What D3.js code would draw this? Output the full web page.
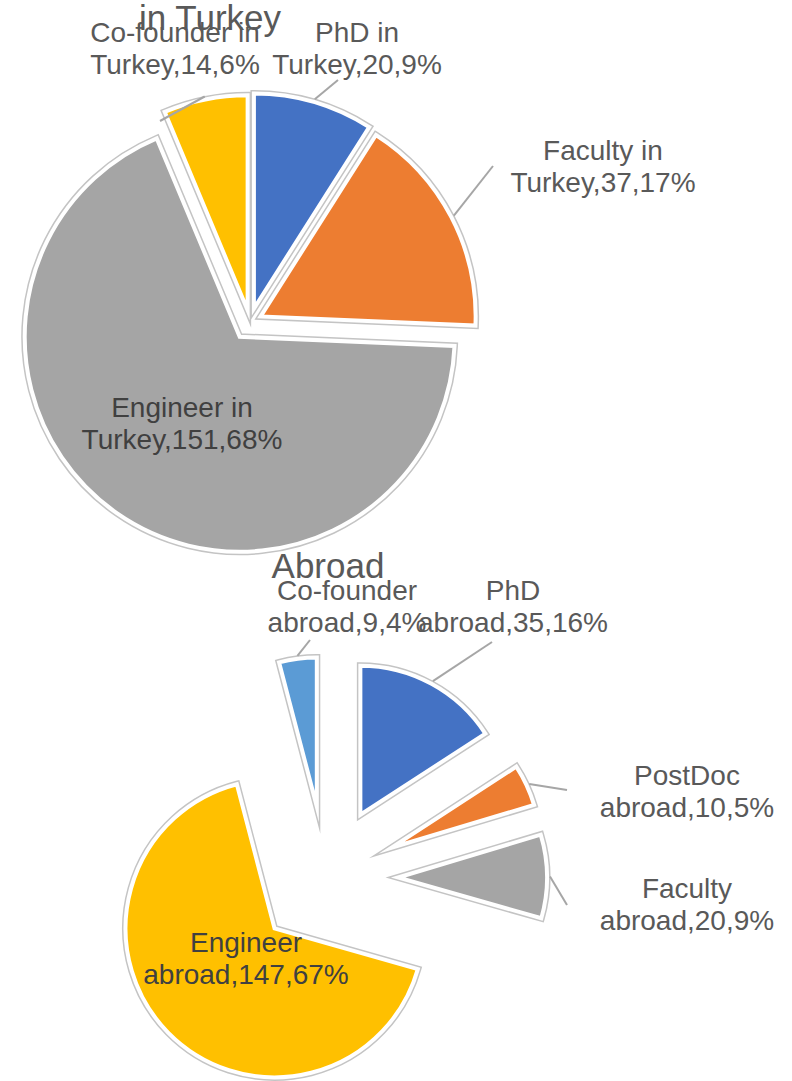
<!DOCTYPE html>
<html>
<head>
<meta charset="utf-8">
<script src="https://cdn.jsdelivr.net/npm/d3@7"></script>
<style>
  html, body { margin: 0; padding: 0; background: #fff; }
  svg text { font-family: "Liberation Sans", Arial, sans-serif; }
</style>
</head>
<body>
<svg id="chart" width="792" height="1081"></svg>
<script>
// ---- data ----
const turkeyCategories = ["PhD in Turkey", "Faculty in Turkey", "Engineer in Turkey", "Co-founder in Turkey"];
const turkeyValues = [20, 37, 151, 14];
const turkeyColors = ["#4472C4", "#ED7D31", "#A5A5A5", "#FFC000"];

const abroadCategories = ["PhD abroad", "PostDoc abroad", "Faculty abroad", "Engineer abroad", "Co-founder abroad"];
const abroadValues = [35, 10, 20, 147, 9];
const abroadColors = ["#4472C4", "#ED7D31", "#A5A5A5", "#FFC000", "#5B9BD5"];

// ---- layout (label anchors: centre x, first baseline, leader start) ----
const turkeyLayout = {
  title: "in Turkey", titleX: 210, titleY: 30,
  cx: 250, cy: 322, r: 215,
  explode: [14, 12, 18, 12],
  labels: [
    { x: 357, y: 42, lx: 338, ly: 80 },
    { x: 603, y: 160, lx: 493, ly: 166 },
    { x: 182, y: 417, inside: true },
    { x: 175, y: 42, lx: 160, ly: 121 }
  ]
};
const abroadLayout = {
  title: "Abroad", titleX: 328, titleY: 578,
  cx: 326, cy: 878, r: 149,
  explode: [72, 72, 72, 72, 72],
  labels: [
    { x: 513, y: 600, lx: 492, ly: 642 },
    { x: 687, y: 785, lx: 567, ly: 790 },
    { x: 687, y: 898, lx: 567, ly: 905 },
    { x: 246, y: 952, inside: true },
    { x: 347, y: 600, lx: 310, ly: 640 }
  ]
};

const svg = d3.select("#chart");

function drawPie(categories, values, colors, layout) {
  const total = d3.sum(values);
  const pie = d3.pie().sort(null).value(d => d)(values);
  const arc = d3.arc().innerRadius(0).outerRadius(layout.r);
  const g = svg.append("g");

  // title first, labels sit on top of it
  g.append("text")
    .attr("x", layout.titleX)
    .attr("y", layout.titleY)
    .attr("text-anchor", "middle")
    .attr("font-size", 35)
    .attr("fill", "#595959")
    .text(layout.title);

  const offset = (d, i) => {
    const mid = (d.startAngle + d.endAngle) / 2;
    const e = layout.explode[i];
    return [layout.cx + e * Math.sin(mid), layout.cy - e * Math.cos(mid)];
  };

  const slices = g.selectAll("g.slice")
    .data(pie)
    .enter()
    .append("g")
    .attr("class", "slice")
    .attr("transform", (d, i) => "translate(" + offset(d, i) + ")");

  // soft grey outline under a white border
  slices.append("path")
    .attr("d", arc)
    .attr("fill", "none")
    .attr("stroke", "#c4c4c4")
    .attr("stroke-width", 7)
    .attr("stroke-miterlimit", 12);
  slices.append("path")
    .attr("d", arc)
    .attr("fill", (d, i) => colors[i])
    .attr("stroke", "#fff")
    .attr("stroke-width", 4)
    .attr("stroke-miterlimit", 12);

  // leader lines to the middle of each slice's outer edge
  pie.forEach((d, i) => {
    const lab = layout.labels[i];
    if (lab.inside) return;
    const [ox, oy] = offset(d, i);
    const mid = (d.startAngle + d.endAngle) / 2;
    g.append("line")
      .attr("x1", lab.lx)
      .attr("y1", lab.ly)
      .attr("x2", ox + (layout.r + 3) * Math.sin(mid))
      .attr("y2", oy - (layout.r + 3) * Math.cos(mid))
      .attr("stroke", "#a6a6a6")
      .attr("stroke-width", 2);
  });

  // labels: "Name words" / "lastword,value,pct%"
  pie.forEach((d, i) => {
    const lab = layout.labels[i];
    const words = categories[i].split(" ");
    const last = words.pop();
    const pct = Math.round(values[i] / total * 100);
    const lines = [words.join(" "), last + "," + values[i] + "," + pct + "%"];
    const t = g.append("text")
      .attr("text-anchor", "middle")
      .attr("font-size", 28)
      .attr("fill", lab.inside ? "#404040" : "#595959");
    lines.forEach((s, k) => {
      t.append("tspan")
        .attr("x", lab.x)
        .attr("y", lab.y + k * 32)
        .text(s);
    });
  });
}

drawPie(turkeyCategories, turkeyValues, turkeyColors, turkeyLayout);
drawPie(abroadCategories, abroadValues, abroadColors, abroadLayout);
</script>
</body>
</html>
